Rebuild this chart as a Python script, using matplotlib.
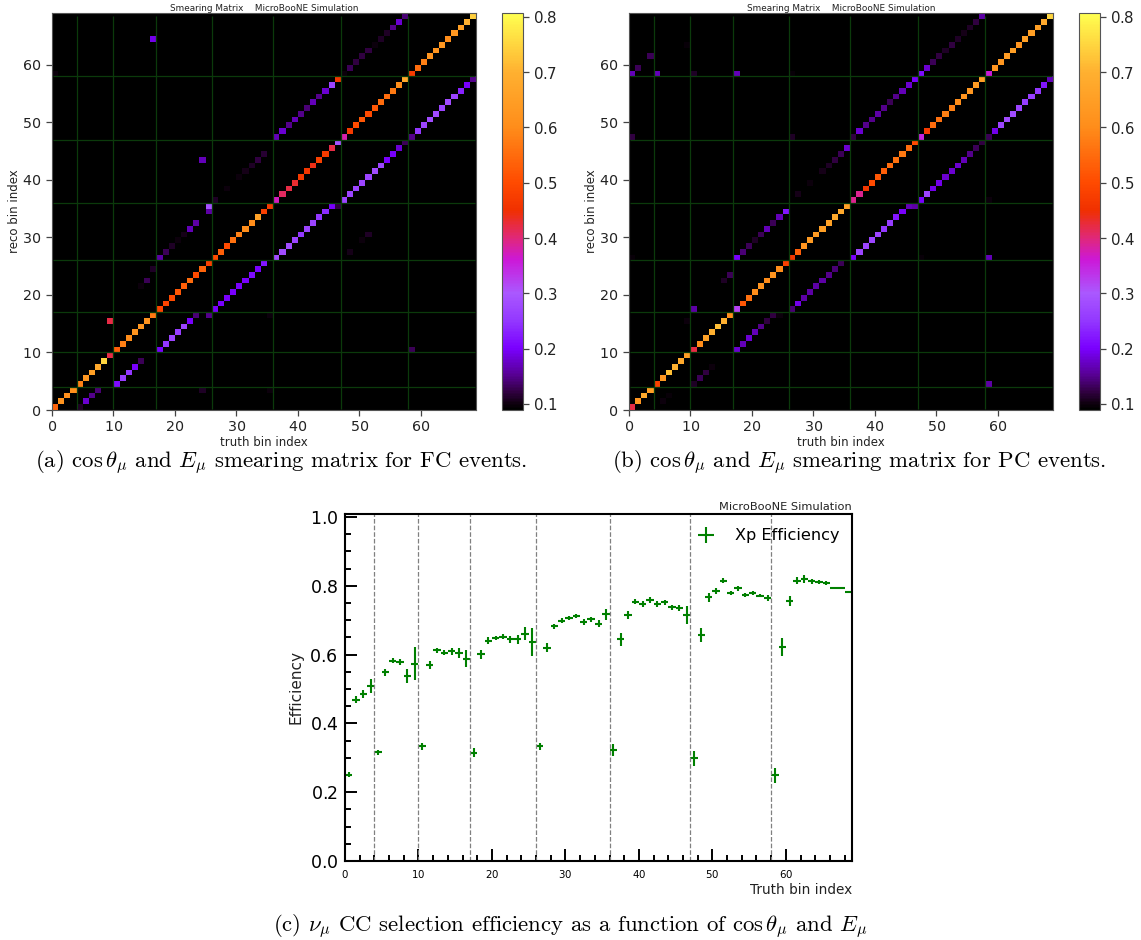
import numpy as np
import matplotlib
matplotlib.use("Agg")
import matplotlib.pyplot as plt
from matplotlib.colors import LinearSegmentedColormap, Normalize
from matplotlib.cm import ScalarMappable
from matplotlib.ticker import MultipleLocator

NBINS = 69
BLOCK_EDGES = [4, 10, 17, 26, 36, 47, 58]

# Diagonal of the smearing matrices, truth bin 0..68
FC_MAIN = [.54, .62, .61, .61, .58, .63, .65, .68, .75, .42, .53, .58, .60, .62, .63, .62, .57, .49,
           .49, .50, .52, .53, .55, .50, .54, .48, .50, .53, .50, .56, .58, .60, .60, .66, .48, .47,
           .37, .41, .42, .43, .47, .46, .44, .48, .47, .42, .29, .38, .47, .50, .52, .50, .52, .55,
           .55, .57, .60, .68, .47, .55, .58, .62, .62, .63, .60, .63, .65, .70, .74]
PC_MAIN = [.42, .63, .68, .65, .48, .63, .72, .70, .68, .65, .42, .60, .66, .70, .72, .70, .60, .32,
           .52, .56, .60, .62, .60, .62, .60, .48, .46, .53, .62, .64, .64, .65, .66, .68, .68, .66,
           .39, .39, .46, .50, .52, .53, .55, .56, .57, .55, .50, .35, .47, .55, .56, .58, .58, .60,
           .62, .63, .64, .65, .36, .62, .63, .64, .65, .62, .65, .65, .65, .68, .75]

# Off-diagonal bands, named by first truth bin and truth-reco offset
FC_UP_17 = [.16, .13, .11, .10, .105, .17, .16, 0, .16]              # reco = truth + 9
FC_UP_26 = [.11, 0, .10, 0, .10, .105, .11, .12, .115]                # reco = truth + 10
FC_UP_36 = [.17, .18, .15, .17, .15, .14, .17, .15, .18, .27, .46,
            .10, .13, .12, .12, .12, .10, .11, .11, .15, .18, .14]    # reco = truth + 11
FC_LOW_4 = [.11, .18, .15, .14]                                       # reco = truth - 4
FC_LOW_10 = [.21, .26, .25, .20, .13]                                 # reco = truth - 6
FC_LOW_17 = [.20, .25, .27, .26, .27, .20, .14]                       # reco = truth - 7
FC_LOW_25 = [.15, .20, .20, .20, .20, .20, .20, .21, .20, .22]        # reco = truth - 9
FC_LOW_36 = [.28, .28, .28, .27, .25, .27, .27, .25, .24, .20]        # reco = truth - 10
FC_LOW_46 = [.12, .27, .27, .27, .27, .27, .28, .27, .20, .20, .18, .13,
             .15, .25, .27, .28, .28, .27, .28, .27, .23, .20, .15]   # reco = truth - 11

PC_UP_17 = [.20, .14, .13, .11, .13, .17, .13, .17, .22]
PC_UP_26 = [0, .105, 0, .10, 0, .105, .11, .12, .13, .18]
PC_UP_36 = [.12, .18, .15, .15, .16, .15, .13, .15, .17, .18, .20,
            .21, .18, .13, .12, .11, .12, .11, .105, .11, .12, .16]
PC_LOW_10 = [.11, .13, .12, .10]
PC_LOW_17 = [.18, .17, .18, .17, .15, .12, .12]
PC_LOW_26 = [.14, .19, .16, .16, .16, .16, .15, .14, .13]
PC_LOW_36 = [.20, .27, .27, .27, .27, .25, .26, .22, .20, .17]
PC_LOW_46 = [.16, .20, .27, .19, .19, .18, .18, .18, .17, .15, .13, .12,
             .13, .19, .27, .28, .28, .27, .26, .26, .25, .22, .17]

# Isolated cells
FC_SPOT_TRUTH = [16, 24, 0, 9, 14, 15, 16, 25, 24, 58, 35, 35, 48, 50, 51]
FC_SPOT_RECO = [64, 43, 58, 15, 21, 22, 24, 35, 3, 10, 16, 3, 27, 29, 30]
FC_SPOT_VALUE = [.19, .17, .10, .42, .10, .13, .11, .29, .11, .13, .10, .10, .105, .10, .11]

PC_SPOT_TRUTH = [16, 15, 10, 9, 0, 5, 6, 0, 1, 3, 4, 9, 10, 17, 26, 0, 26, 58, 58, 47, 58, 24]
PC_SPOT_RECO = [23, 22, 17, 15, 26, 1, 2, 58, 59, 61, 58, 63, 58, 58, 58, 47, 47, 26, 4, 26, 36, 16]
PC_SPOT_VALUE = [.13, .11, .16, .10, .095, .10, .095, .17, .13, .13, .17, .095, .11, .17, .095,
                 .12, .11, .17, .16, .095, .10, .10]

# Selection efficiency per truth bin
EFF = [.251, .469, .485, .508, .316, .548, .582, .578, .538, .573, .333, .569, .612, .606, .609, .604,
       .588, .315, .601, .640, .648, .652, .645, .644, .661, .636, .333, .620, .682, .699, .706, .712,
       .695, .702, .690, .717, .322, .644, .714, .754, .748, .759, .747, .752, .737, .735, .715, .299,
       .657, .766, .784, .815, .778, .793, .774, .778, .771, .765, .249, .622, .756, .815, .819, .813,
       .812, .808, .793, .793, .782]
EFF_ERR = [.007, .010, .011, .020, .008, .009, .007, .009, .021, .048, .010, .011, .008, .007, .011, .014,
           .025, .012, .013, .010, .007, .008, .010, .012, .020, .040, .011, .013, .008, .007, .006, .006,
           .008, .008, .011, .016, .017, .020, .012, .008, .009, .008, .008, .008, .008, .009, .027, .022,
           .020, .013, .009, .007, .006, .007, .006, .006, .005, .008, .022, .025, .015, .009, .011, .008,
           .006, .006, .003, .002, .002]

CMAP_LEVELS = [.089, .10, .12, .15, .20, .25, .30, .36, .40, .45, .50, .60, .70, .807]
CMAP_COLORS = ["#000000", "#100010", "#300040", "#560090", "#7a00ff", "#9338ff", "#aa58ff", "#cc18d8",
               "#e02878", "#f03000", "#ff4a00", "#ff8c1a", "#ffb030", "#ffff50"]

CAPTION_FONT = ["cmr10", "DejaVu Serif"]
plt.rcParams["mathtext.fontset"] = "cm"
plt.rcParams["axes.formatter.use_mathtext"] = True

WIDTH, HEIGHT = 1141, 940


def pxAxes(fig, left, top, right, bottom):
    return fig.add_axes([left / WIDTH, 1 - bottom / HEIGHT, (right - left) / WIDTH, (bottom - top) / HEIGHT])


def buildMatrix(main, bands, spotTruth, spotReco, spotValue):
    matrix = np.zeros((NBINS, NBINS))
    for i, value in enumerate(main):
        matrix[i, i] = value
    for start, offset, values in bands:
        for i, value in enumerate(values):
            matrix[start + i + offset, start + i] = value
    for truth, reco, value in zip(spotTruth, spotReco, spotValue):
        matrix[reco, truth] = value
    return matrix


def plotMatrix(fig, matrix, cmap, norm, left):
    ax = pxAxes(fig, left, 13, left + 424, 410)
    edges = np.arange(NBINS + 1)
    ax.pcolormesh(edges, edges, matrix, cmap=cmap, norm=norm)
    ax.vlines(BLOCK_EDGES, 0.2, NBINS - 0.5, colors="#0b3a0b", linewidth=0.9)
    ax.hlines(BLOCK_EDGES, 0.2, NBINS - 0.2, colors="#0b3a0b", linewidth=0.9)
    ax.set_xlim(0, NBINS)
    ax.set_ylim(0, NBINS)
    ax.set_xticks(range(0, 61, 10))
    ax.set_yticks(range(0, 61, 10))
    ax.tick_params(labelsize=10.3, length=4, width=0.9, color="#444444", labelcolor="#222222")
    for spine in ax.spines.values():
        spine.set_color("#555555")
    ax.set_xlabel("truth bin index", fontsize=8.5, labelpad=1, color="#222222")
    ax.set_ylabel("reco bin index", fontsize=8.5, labelpad=1, color="#222222")
    ax.set_title("Smearing Matrix    MicroBooNE Simulation", fontsize=6.4, pad=1.5, color="#222222")

    cax = pxAxes(fig, left + 450, 13, left + 471, 410)
    cbar = fig.colorbar(ScalarMappable(norm=norm, cmap=cmap), cax=cax)
    cbar.set_ticks([.1, .2, .3, .4, .5, .6, .7, .8])
    cbar.ax.tick_params(labelsize=10.8, length=4, width=0.9, color="#444444", labelcolor="#222222")
    cbar.outline.set_edgecolor("#555555")


def plotEfficiency(fig):
    ax = pxAxes(fig, 345, 513.5, 852, 861)
    centers = np.arange(NBINS) + 0.5
    ax.errorbar(centers, EFF, xerr=0.5, yerr=EFF_ERR, fmt="none", ecolor="green", elinewidth=1.5,
                label="Xp Efficiency")
    for edge in BLOCK_EDGES:
        ax.axvline(edge, color="gray", linestyle="--", linewidth=0.9)
    ax.set_xlim(0, NBINS)
    ax.set_ylim(0, 1.01)
    ax.xaxis.set_major_locator(MultipleLocator(10))
    ax.xaxis.set_minor_locator(MultipleLocator(2))
    ax.yaxis.set_major_locator(MultipleLocator(0.2))
    ax.yaxis.set_minor_locator(MultipleLocator(0.05))
    ax.tick_params(axis="x", which="major", direction="in", length=8.5, width=1.4, labelsize=7.4, pad=5)
    ax.tick_params(axis="y", which="major", direction="in", length=8.5, width=1.4, labelsize=12.5, pad=5)
    ax.tick_params(which="minor", direction="in", length=4.5, width=1.4)
    for spine in ax.spines.values():
        spine.set_linewidth(1.5)
    ax.set_xlabel("Truth bin index", fontsize=9.8, loc="right", labelpad=2, color="#222222")
    ax.set_ylabel("Efficiency", fontsize=11, labelpad=4, color="#222222")
    ax.set_title("MicroBooNE Simulation", fontsize=8.2, loc="right", pad=2.5, color="#222222")
    ax.legend(loc="upper right", frameon=False, fontsize=11.6, handlelength=1.0, handletextpad=1.3,
              borderaxespad=0.5, bbox_to_anchor=(1.004, 0.999))


def main():
    fig = plt.figure(figsize=(WIDTH / 100, HEIGHT / 100), dpi=100)

    cmapStops = [(level - CMAP_LEVELS[0]) / (CMAP_LEVELS[-1] - CMAP_LEVELS[0]) for level in CMAP_LEVELS]
    cmap = LinearSegmentedColormap.from_list("smear", list(zip(cmapStops, CMAP_COLORS)))
    cmap.set_under("black")
    norm = Normalize(vmin=CMAP_LEVELS[0], vmax=CMAP_LEVELS[-1])

    fcBands = [(17, 9, FC_UP_17), (26, 10, FC_UP_26), (36, 11, FC_UP_36), (4, -4, FC_LOW_4),
               (10, -6, FC_LOW_10), (17, -7, FC_LOW_17), (25, -9, FC_LOW_25), (36, -10, FC_LOW_36),
               (46, -11, FC_LOW_46)]
    pcBands = [(17, 9, PC_UP_17), (26, 10, PC_UP_26), (36, 11, PC_UP_36), (10, -6, PC_LOW_10),
               (17, -7, PC_LOW_17), (26, -9, PC_LOW_26), (36, -10, PC_LOW_36), (46, -11, PC_LOW_46)]

    plotMatrix(fig, buildMatrix(FC_MAIN, fcBands, FC_SPOT_TRUTH, FC_SPOT_RECO, FC_SPOT_VALUE), cmap, norm, 52)
    plotMatrix(fig, buildMatrix(PC_MAIN, pcBands, PC_SPOT_TRUTH, PC_SPOT_RECO, PC_SPOT_VALUE), cmap, norm, 629)
    plotEfficiency(fig)

    fig.text(281 / WIDTH, 1 - 462 / HEIGHT, r"(a) $\cos\theta_\mu$ and $E_\mu$ smearing matrix for FC events.",
             family=CAPTION_FONT, fontsize=16.4, ha="center", va="center")
    fig.text(859 / WIDTH, 1 - 462 / HEIGHT, r"(b) $\cos\theta_\mu$ and $E_\mu$ smearing matrix for PC events.",
             family=CAPTION_FONT, fontsize=16.4, ha="center", va="center")
    fig.text(570 / WIDTH, 1 - 926 / HEIGHT,
             r"(c) $\nu_\mu$ CC selection efficiency as a function of $\cos\theta_\mu$ and $E_\mu$",
             family=CAPTION_FONT, fontsize=16.4, ha="center", va="center")

    fig.savefig("out.png", dpi=100)


if __name__ == '__main__':
    main()
